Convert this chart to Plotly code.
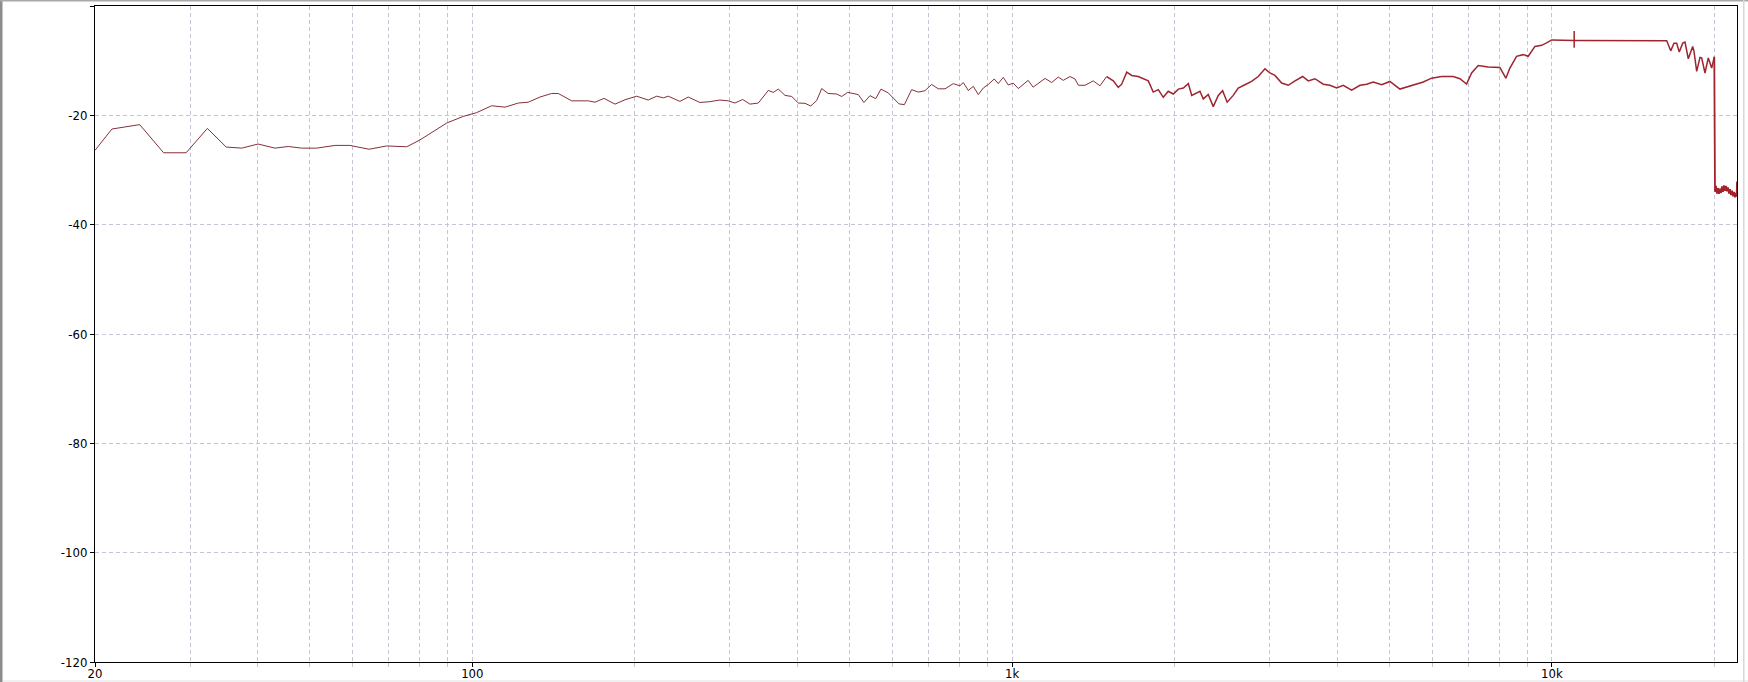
import math
import plotly.graph_objects as go

# ---- data (frequency in Hz, level in dB) ----
freq_lo = [20, 21.5, 24.2, 26.8, 29.5, 32.3, 35.0, 37.4, 40.1, 43.1, 45.6, 48.3, 51.5, 55.7, 59.3,
           64.4, 69.4, 75.6, 80.0, 84.7, 89.7, 96.2, 101.9, 108.6, 115.0, 121.7, 127.0, 133.5, 140.3,
           144.3, 152.8, 164.0, 168.8, 175.4, 183.8, 191.8, 201.6, 211.8, 219.6, 225.9, 230.7, 242.5,
           251.2, 264.1, 275.6, 287.6, 298.0, 306.6, 316.9, 326.9, 338.8, 353.5, 361.2, 368.9, 379.6,
           390.6, 401.8, 413.4, 423.6, 434.5, 444.0, 456.3, 473.2, 483.5, 496.0, 518.8, 531.6, 545.5,
           559.0, 571.7, 589.7, 602.7, 617.3, 631.6, 651.6, 670.2, 689.6, 709.6, 730.0, 751.2, 778.0,
           800.6, 812.1, 829.7, 847.6, 865.9, 884.5, 903.4, 926.9, 942.7, 963.2, 984.0, 1005, 1027,
           1049, 1071, 1094, 1118, 1151, 1184, 1218, 1244, 1280, 1308, 1327, 1365, 1414, 1455, 1497]
db_lo = [-26.4, -22.5, -21.7, -26.85, -26.85, -22.4, -25.8, -26.0, -25.25, -26.0, -25.7, -26.0, -26.0,
         -25.5, -25.5, -26.2, -25.6, -25.75, -24.5, -22.95, -21.4, -20.2, -19.5, -18.25, -18.5, -17.75,
         -17.6, -16.65, -16.0, -16.0, -17.35, -17.35, -17.6, -16.9, -17.95, -17.15, -16.5, -17.2, -16.5,
         -16.8, -16.5, -17.45, -16.65, -17.65, -17.5, -17.2, -17.35, -17.75, -17.1, -17.95, -17.75,
         -15.45, -15.8, -15.2, -16.35, -16.55, -17.75, -17.8, -18.3, -17.3, -15.1, -16.0, -16.1, -16.55,
         -15.8, -16.2, -17.65, -16.4, -16.95, -15.2, -15.9, -16.85, -17.9, -18.05, -15.3, -15.75, -15.5,
         -14.35, -15.15, -15.15, -14.2, -14.6, -14.0, -15.45, -14.7, -16.2, -15.0, -14.35, -13.35, -14.2,
         -13.05, -14.45, -14.1, -15.1, -14.35, -13.6, -14.85, -14.2, -13.25, -14.0, -13.0, -13.6, -12.9,
         -13.35, -14.5, -14.5, -13.7, -14.6, -12.9]

freq_hi = [1497, 1540, 1573, 1596, 1631, 1666, 1713, 1750, 1788, 1826, 1866, 1906, 1947, 1989, 2033,
           2076, 2121, 2152, 2229, 2261, 2309, 2359, 2410, 2455, 2503, 2569, 2624, 2700, 2778, 2858,
           2941, 3004, 3069, 3158, 3249, 3343, 3454, 3538, 3640, 3772, 3881, 3993, 4107, 4257, 4411,
           4539, 4668, 4839, 5012, 5230, 5537, 5778, 5989, 6249, 6566, 6756, 6951, 7102, 7304, 7623,
           8011, 8104, 8219, 8362, 8602, 8851, 9042, 9305, 9574, 9779, 9991, 11000, 12500, 14000,
           15000, 16322, 16603, 16838, 17033, 17223, 17475, 17648, 17897, 18236, 18338, 18550, 18813,
           18948, 19218, 19490, 19774, 19971, 19995]
db_hi = [-12.9, -13.7, -14.9, -14.3, -12.1, -12.7, -12.9, -13.3, -13.7, -15.75, -15.3, -16.7, -15.6,
         -16.1, -15.2, -15.0, -14.2, -16.35, -15.6, -17.0, -16.2, -18.4, -16.35, -15.5, -17.6, -16.35,
         -15.0, -14.4, -13.8, -12.9, -11.5, -12.25, -12.7, -14.1, -14.5, -13.7, -12.9, -13.7, -13.3,
         -14.3, -14.5, -15.0, -14.5, -15.4, -14.5, -14.3, -13.9, -14.4, -13.8, -15.2, -14.4, -13.9,
         -13.2, -12.9, -12.9, -13.3, -14.3, -12.25, -10.9, -11.15, -11.25, -12.25, -13.2, -11.35, -9.2,
         -8.9, -9.2, -7.4, -7.2, -6.75, -6.2, -6.3, -6.3, -6.35, -6.4, -6.35, -8.2, -6.8, -6.8, -8.4,
         -6.8, -6.6, -9.65, -7.4, -8.3, -11.95, -9.4, -9.5, -12.25, -9.5, -11.35, -9.5, -9.3]

freq_tail = [19995, 20020, 20056, 20140, 20228, 20315, 20401, 20490, 20576, 20664, 20752, 20840, 20931,
             21020, 21110, 21200, 21292, 21380, 21474, 21565, 21659, 21750, 21844, 21935, 22000, 22030]
db_tail = [-9.3, -32.3, -34.0, -32.9, -34.3, -33.3, -34.35, -33.4, -34.2, -33.0, -34.0, -32.8, -33.8,
           -32.9, -33.9, -33.2, -34.3, -33.5, -34.6, -33.8, -34.8, -34.0, -35.0, -34.2, -34.9, -32.1]

cursor_freq = [11000]
cursor_db = [-6.1]

x_range_hz = [20, 22030]
x_major = [20, 100, 1000, 10000]
x_major_labels = ["20", "100", "1k", "10k"]
x_minor = [30, 40, 50, 60, 70, 80, 90, 200, 300, 400, 500, 600, 700, 800, 900,
           2000, 3000, 4000, 5000, 6000, 7000, 8000, 9000, 20000]
y_ticks = [-120, -100, -80, -60, -40, -20, 0]
y_labels = ["-120", "-100", "-80", "-60", "-40", "-20", "0dB"]

# ---- figure ----
W, H = 1748, 682
ML, MR, MT, MB = 95, 11, 6, 20
FONT = "Liberation Sans Narrow, DejaVu Sans Condensed, Arial Narrow, sans-serif"
GRID = "#c4c4d4"

fig = go.Figure()
fig.add_trace(go.Scatter(x=freq_lo, y=db_lo, mode="lines",
                         line=dict(color="#84303a", width=1), hoverinfo="skip"))
fig.add_trace(go.Scatter(x=freq_hi, y=db_hi, mode="lines",
                         line=dict(color="#9e2530", width=1.5), hoverinfo="skip"))
fig.add_trace(go.Scatter(x=freq_tail, y=db_tail, mode="lines",
                         line=dict(color="#a3232c", width=1.8), hoverinfo="skip"))
fig.add_trace(go.Scatter(x=cursor_freq, y=cursor_db, mode="markers",
                         marker=dict(symbol="line-ns", size=12,
                                     line=dict(color="#a3232c", width=1.5)),
                         hoverinfo="skip"))

fig.update_xaxes(type="log", range=[math.log10(x_range_hz[0]), math.log10(x_range_hz[1])],
                 tickmode="array", tickvals=x_major, ticktext=x_major_labels,
                 ticks="outside", ticklen=4, tickcolor="#000", tickwidth=1,
                 ticklabelstandoff=-5,
                 showline=True, linecolor="#000", linewidth=1, mirror=True,
                 showgrid=True, gridcolor=GRID, griddash="4px,3px", gridwidth=1,
                 zeroline=False, automargin=False,
                 minor=dict(tickmode="array", tickvals=x_minor, ticks="outside", ticklen=4,
                            tickcolor="#c8c8c8", showgrid=True, gridcolor=GRID,
                            griddash="4px,3px", gridwidth=1),
                 tickfont=dict(family=FONT, size=13, color="#000"))
fig.update_yaxes(range=[-120, 0], tickmode="array", tickvals=y_ticks, ticktext=y_labels,
                 ticks="outside", ticklen=4, tickcolor="#000", tickwidth=1,
                 showline=True, linecolor="#000", linewidth=1, mirror=True,
                 showgrid=True, gridcolor=GRID, griddash="4px,3px", gridwidth=1,
                 zeroline=False, automargin=False,
                 tickfont=dict(family=FONT, size=13, color="#000"))

# window frame decoration (paper coordinates derived from margins)
pw, ph = W - ML - MR, H - MT - MB
def px_x(p):
    return (p - ML) / pw
def px_y(p):
    return 1 - (p - MT) / ph
shapes = [
    dict(type="rect", xref="paper", yref="paper", x0=px_x(0), x1=px_x(2.5), y0=px_y(H), y1=px_y(0),
         fillcolor="#8c8c8c", line=dict(width=0), layer="above"),
    dict(type="rect", xref="paper", yref="paper", x0=px_x(0), x1=px_x(W), y0=px_y(1.5), y1=px_y(0),
         fillcolor="#a8a8a8", line=dict(width=0), layer="above"),
    dict(type="rect", xref="paper", yref="paper", x0=px_x(1743), x1=px_x(1744.5), y0=px_y(H), y1=px_y(0),
         fillcolor="#d8d8d8", line=dict(width=0), layer="above"),
    dict(type="rect", xref="paper", yref="paper", x0=px_x(2.5), x1=px_x(W), y0=px_y(H), y1=px_y(680),
         fillcolor="#f0f0f0", line=dict(width=0), layer="below"),
]

fig.update_layout(width=W, height=H, margin=dict(l=ML, r=MR, t=MT, b=MB, pad=0, autoexpand=False),
                  paper_bgcolor="#ffffff", plot_bgcolor="#ffffff", showlegend=False,
                  font=dict(family=FONT, size=13, color="#000"), shapes=shapes)

fig.write_html("out.html", config={"displayModeBar": False},
               post_script="document.body.style.margin='0';document.body.style.overflow='hidden';")
